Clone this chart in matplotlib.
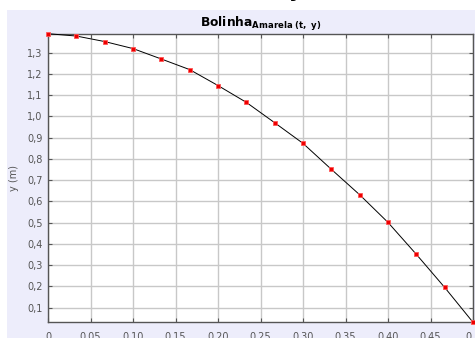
import matplotlib
matplotlib.use("Agg")
import matplotlib.pyplot as plt
from matplotlib.patches import Rectangle

t = [0.0, 0.0333, 0.0667, 0.1, 0.1333, 0.1667, 0.2, 0.2333, 0.2667, 0.3,
     0.3333, 0.3667, 0.4, 0.4333, 0.4667, 0.5]
y = [1.389, 1.378, 1.352, 1.319, 1.270, 1.220, 1.145, 1.066, 0.970, 0.873,
     0.751, 0.631, 0.501, 0.351, 0.195, 0.031]
xticks = [0, 0.05, 0.10, 0.15, 0.20, 0.25, 0.30, 0.35, 0.40, 0.45, 0.5]
xticklabels = ["0", "0.05", "0.10", "0.15", "0.20", "0.25", "0.30", "0.35",
               "0.40", "0.45", "0.5"]
yticks = [0.1, 0.2, 0.3, 0.4, 0.5, 0.6, 0.7, 0.8, 0.9, 1.0, 1.1, 1.2, 1.3]
yticklabels = ["0,1", "0,2", "0,3", "0,4", "0,5", "0,6", "0,7", "0,8", "0,9",
               "1,0", "1,1", "1,2", "1,3"]

W, H = 475, 338
fig = plt.figure(figsize=(W / 100, H / 100), dpi=100)
fig.patch.set_facecolor("white")

# lavender panel
fig.add_artist(Rectangle((7 / W, 0), 1, 1 - 10 / H, transform=fig.transFigure,
                         facecolor="#ededfb", edgecolor="none", zorder=-5))

# clipped descender of a larger heading above
fig.text(296 / W, 1 + 3.0 / H, "y", fontsize=15, fontweight="bold",
         ha="center", va="baseline", color="black")

left, right = 48 / W, 473 / W
top, bottom = 1 - 33.7 / H, 1 - 322.3 / H
ax = fig.add_axes([left, bottom, right - left, top - bottom])
ax.set_zorder(1)
ax.set_facecolor("white")

ax.plot(t, y, color="black", linewidth=0.7, zorder=3, clip_on=False)
ax.plot(t, y, linestyle="none", marker="s", markersize=3.4,
        markerfacecolor="#ee0000", markeredgecolor="#ff5555",
        markeredgewidth=0.6, zorder=4, clip_on=False)

ax.set_xlim(0, 0.5)
ax.set_ylim(min(y), max(y))
ax.set_xticks(xticks)
ax.set_xticklabels(xticklabels)
ax.set_yticks(yticks)
ax.set_yticklabels(yticklabels)

ax.grid(True, color="#c8c8c8", linewidth=1.0)
ax.set_axisbelow(True)
for s in ax.spines.values():
    s.set_color("#555555")
    s.set_linewidth(1.0)

ax.tick_params(axis="both", direction="in", length=3, width=0.8,
               color="#555555", labelcolor="#555555", labelsize=7,
               top=True, right=True)
ax.tick_params(axis="x", pad=7)
ax.tick_params(axis="y", pad=4)

ax.set_ylabel("y (m)", fontsize=7, color="#555555", labelpad=6)

ax.set_title(r"$\mathbf{Bolinha}_{\mathbf{Amarela\ (t,\ y)}}$", fontsize=8.8,
             color="black", pad=5)

fig.savefig("out.png", dpi=100, facecolor=fig.get_facecolor())
